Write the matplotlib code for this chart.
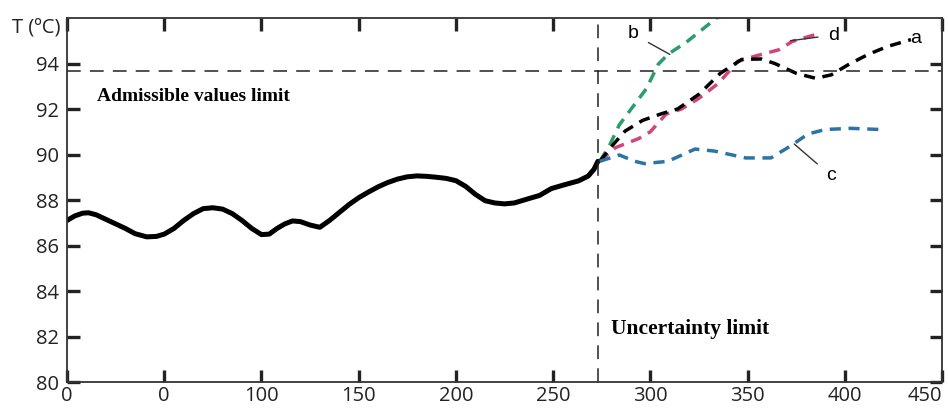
import matplotlib.pyplot as plt

# main measured curve (solid)
main_x = [0, 4, 8, 11, 15, 20, 25, 30, 35, 41, 46, 50, 55, 60, 65, 70, 75,
          80, 85, 90, 95, 100, 104, 108, 112, 116, 120, 125, 130, 135, 140,
          145, 150, 155, 160, 165, 170, 175, 180, 185, 190, 195, 200, 205,
          210, 215, 220, 225, 230, 237, 243, 249, 255, 263, 268, 271, 273]
main_y = [87.1, 87.3, 87.42, 87.44, 87.35, 87.15, 86.95, 86.75, 86.52,
          86.38, 86.4, 86.5, 86.75, 87.1, 87.4, 87.62, 87.66, 87.6, 87.4,
          87.1, 86.75, 86.48, 86.5, 86.75, 86.95, 87.08, 87.05, 86.9, 86.8,
          87.1, 87.45, 87.8, 88.1, 88.35, 88.58, 88.77, 88.92, 89.02, 89.06,
          89.04, 89.0, 88.95, 88.85, 88.6, 88.25, 87.97, 87.87, 87.83, 87.87,
          88.05, 88.2, 88.5, 88.65, 88.84, 89.05, 89.35, 89.7]

# forecast scenarios (dashed)
a_x = [274, 281, 287, 296, 306, 314, 325, 336, 347, 357, 364, 375, 385,
       393, 402, 412, 422, 434]
a_y = [89.7, 90.45, 91.03, 91.5, 91.8, 92.0, 92.65, 93.57, 94.18, 94.2,
       94.0, 93.57, 93.35, 93.5, 93.96, 94.4, 94.75, 95.05]

b_x = [274, 279, 284, 291, 298, 304, 309, 319, 333, 342]
b_y = [89.7, 90.4, 91.3, 92.1, 92.9, 93.96, 94.4, 94.97, 95.93, 96.5]

c_x = [274, 284, 292, 297, 309, 323, 333, 349, 362, 372, 381, 390, 403, 418]
c_y = [89.7, 89.98, 89.7, 89.6, 89.7, 90.24, 90.15, 89.85, 89.85, 90.37,
       90.9, 91.1, 91.15, 91.1]

d_x = [274, 282, 294, 300, 308, 316, 325, 335, 345, 355, 366, 373, 386]
d_y = [89.7, 90.3, 90.7, 91.0, 91.77, 92.0, 92.47, 93.13, 94.1, 94.35,
       94.6, 94.97, 95.3]

x_ticks = [0, 50, 100, 150, 200, 250, 300, 350, 400, 450]
x_labels = ['0', '0', '100', '150', '200', '250', '300', '350', '400', '450']
y_ticks = [80, 82, 84, 86, 88, 90, 92, 94]

admissible_limit = 93.65
uncertainty_limit = 273

fig = plt.figure(figsize=(9.48, 4.12), dpi=100)
ax = fig.add_axes([0.0707, 0.0728, 0.923, 0.8835])

ax.plot(main_x, main_y, color='black', lw=3.6, solid_capstyle='round',
        solid_joinstyle='round')
dash = dict(lw=2.5, dashes=(3.2, 2.2))
ax.plot(b_x, b_y, color='#2a9d6c', **dash)
ax.plot(d_x, d_y, color='#d0467a', **dash)
ax.plot(a_x, a_y, color='black', **dash)
ax.plot(c_x, c_y, color='#2a74a6', **dash)

# limit lines
ax.axhline(admissible_limit, color='#222222', lw=1.1, dashes=(9, 6))
ax.axvline(uncertainty_limit, color='#222222', lw=1.1, dashes=(9, 6))

ax.set_xlim(0, 450)
ax.set_ylim(80, 96)
ax.set_xticks(x_ticks)
ax.set_xticklabels(x_labels)
ax.set_yticks(y_ticks)

for s in ax.spines.values():
    s.set_linewidth(1.3)
    s.set_color('#333333')
ax.tick_params(direction='in', length=9, width=2.4, top=True, right=True,
               labelsize=14.5, colors='#222222')
ax.tick_params(axis='x', pad=3)
ax.tick_params(axis='y', pad=6)
for lab in ax.get_xticklabels() + ax.get_yticklabels():
    lab.set_family('Open Sans')
ax.get_xticklabels()[-1].set_horizontalalignment('right')

ax.text(-0.008, 95.55, 'T (ºC)', transform=ax.get_yaxis_transform(),
        ha='right', va='center', fontsize=14.5, family='Open Sans',
        color='#222222')

# annotations
ax.text(15.4, 92.56, 'Admissible values limit', family='Liberation Serif',
        fontweight='bold', fontsize=14, va='center')
ax.text(280, 82.35, 'Uncertainty limit', family='Liberation Serif',
        fontweight='bold', fontsize=15.5, va='center')

ax.annotate('b', xy=(310, 94.4), xytext=(291, 95.3), fontsize=14,
            family='Liberation Sans', ha='center', va='center',
            arrowprops=dict(arrowstyle='-', color='#333333', lw=1,
                            shrinkA=6, shrinkB=0))
ax.annotate('d', xy=(372, 95.0), xytext=(394, 95.25), fontsize=14,
            family='Liberation Sans', ha='center', va='center',
            arrowprops=dict(arrowstyle='-', color='#333333', lw=1,
                            shrinkA=5, shrinkB=0))
ax.text(436.5, 95.1, 'a', fontsize=14, family='Liberation Sans',
        ha='center', va='center')
ax.annotate('c', xy=(374, 90.46), xytext=(393, 89.06), fontsize=14,
            family='Liberation Sans', ha='center', va='center',
            arrowprops=dict(arrowstyle='-', color='#333333', lw=1,
                            shrinkA=6, shrinkB=0))

plt.savefig('out.png', dpi=100)
plt.close()
